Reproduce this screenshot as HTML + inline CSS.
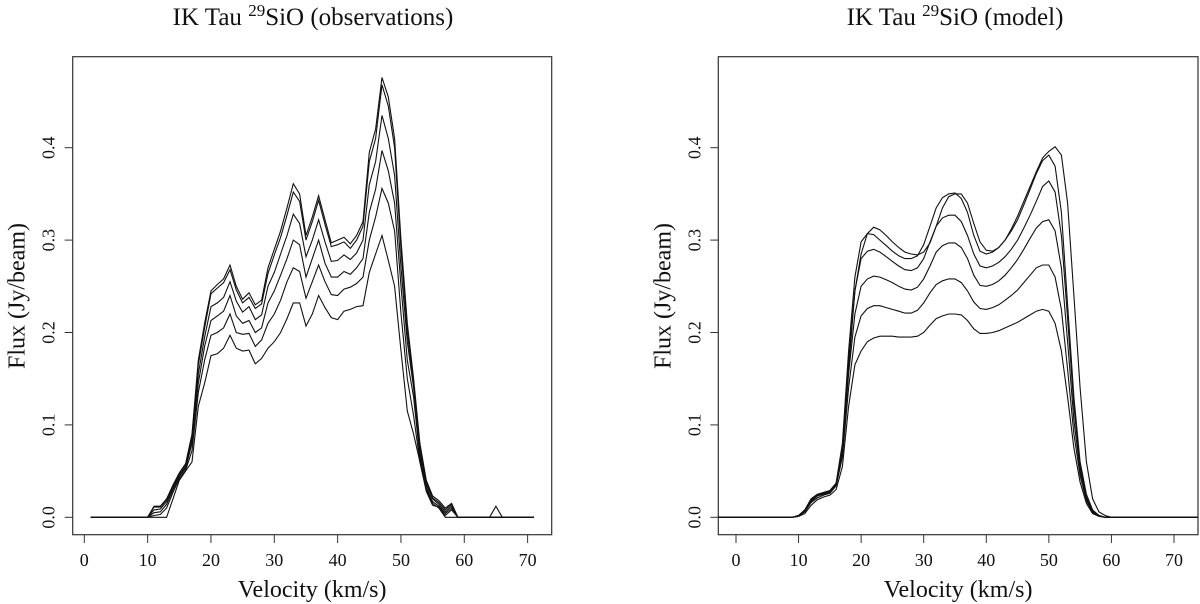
<!DOCTYPE html>
<html><head><meta charset="utf-8"><style>
html,body{margin:0;padding:0;background:#fff;width:1200px;height:604px;overflow:hidden}
svg{display:block;font-family:"Liberation Serif",serif}
</style></head><body>
<svg id="chart" width="1200" height="604" viewBox="0 0 1200 604"></svg>
<script>
// ---------- Observations data ----------
const obsVel=[1,10,11,12,13,14,15,16,17,18,19,20,21,22,23,24,25,26,27,28,29,30,31,32,33,34,35,36,37,38,39,40,41,42,43,44,45,46,47,48,49,50,51,52,53,54,55,56,57,58,59,60,64,65,66,71];
const obs1=[0,0,.012,.012,.02,.035,.048,.058,.09,.17,.21,.245,.252,.258,.273,.25,.236,.243,.23,.235,.27,.29,.31,.335,.361,.35,.305,.325,.348,.322,.297,.3,.303,.296,.305,.32,.395,.42,.476,.455,.41,.3,.21,.15,.08,.04,.023,.018,.01,.015,0,0,0,.012,0,0];
const obs2=[0,0,.011,.011,.019,.034,.047,.057,.088,.165,.205,.242,.248,.254,.268,.246,.232,.238,.226,.231,.264,.284,.303,.327,.352,.342,.3,.32,.343,.317,.293,.295,.298,.291,.3,.315,.385,.41,.468,.445,.4,.29,.2,.145,.075,.038,.021,.016,.008,.014,0,0,0,0,0,0];
const obs3=[0,0,.008,.009,.017,.032,.045,.055,.085,.155,.195,.228,.232,.238,.255,.234,.222,.228,.214,.219,.25,.265,.285,.305,.328,.318,.282,.3,.322,.298,.277,.278,.284,.279,.286,.3,.36,.385,.435,.41,.37,.27,.19,.14,.07,.035,.02,.014,.006,.012,0,0,0,0,0,0];
const obs4=[0,0,.005,.006,.014,.03,.044,.053,.08,.145,.185,.213,.218,.223,.24,.218,.21,.213,.2,.205,.232,.245,.262,.28,.3,.295,.26,.28,.3,.275,.26,.26,.266,.263,.27,.28,.33,.355,.397,.375,.34,.25,.17,.13,.065,.032,.017,.012,.004,.01,0,0,0,0,0,0];
const obs5=[0,0,.002,.003,.01,.027,.042,.051,.072,.135,.17,.197,.2,.205,.22,.2,.198,.199,.185,.192,.21,.22,.235,.255,.27,.266,.237,.255,.273,.255,.241,.24,.247,.249,.253,.26,.3,.325,.356,.34,.31,.22,.15,.11,.06,.028,.013,.011,.002,.008,0,0,0,0,0,0];
const obs6=[0,0,0,0,0,.02,.04,.05,.06,.12,.145,.175,.177,.183,.197,.183,.18,.181,.166,.172,.183,.19,.2,.215,.232,.232,.207,.22,.24,.227,.216,.214,.223,.225,.228,.229,.265,.285,.305,.278,.25,.18,.115,.09,.06,.03,.015,.01,0,0,0,0,0,0,0,0];
// ---------- Model data ----------
const modVel=[-5,8,9,10,11,12,13,14,15,16,17,18,19,20,21,22,23,24,25,26,27,28,29,30,31,32,33,34,35,36,37,38,39,40,41,42,43,44,45,46,47,48,49,50,51,52,53,54,55,56,57,58,59,60,61,62,80];
const modA=[0,0,0,.001,.006,.017,.023,.026,.028,.034,.07,.16,.245,.285,.307,.314,.311,.305,.298,.292,.287,.285,.284,.287,.297,.315,.335,.347,.35,.35,.34,.318,.298,.289,.288,.292,.3,.312,.326,.342,.358,.374,.389,.396,.401,.392,.34,.24,.14,.06,.02,.006,.002,0,0,0,0];
const modB=[0,0,0,.002,.008,.02,.025,.027,.029,.037,.08,.18,.26,.298,.307,.306,.3,.294,.288,.283,.28,.28,.283,.295,.315,.335,.346,.35,.351,.345,.33,.305,.288,.285,.287,.292,.3,.31,.322,.338,.355,.372,.386,.392,.38,.33,.23,.13,.06,.025,.008,.002,0,0,0,0,0];
const modC=[0,0,0,.002,.008,.019,.024,.026,.028,.036,.075,.17,.245,.28,.288,.29,.287,.282,.277,.272,.268,.267,.27,.28,.298,.315,.324,.327,.327,.32,.305,.285,.272,.27,.272,.276,.282,.29,.3,.313,.327,.342,.358,.364,.352,.305,.215,.12,.055,.022,.007,.002,0,0,0,0,0];
const modD=[0,0,0,.002,.007,.018,.023,.025,.027,.035,.07,.155,.22,.25,.258,.261,.26,.257,.254,.25,.247,.246,.249,.258,.272,.287,.294,.297,.297,.292,.28,.262,.251,.25,.252,.256,.262,.27,.279,.29,.302,.313,.32,.322,.31,.27,.19,.105,.05,.02,.006,.002,0,0,0,0,0];
const modE=[0,0,0,.002,.006,.016,.021,.024,.026,.034,.065,.14,.195,.218,.226,.229,.229,.227,.225,.223,.221,.221,.224,.232,.243,.252,.256,.258,.258,.254,.245,.233,.226,.225,.227,.23,.235,.24,.246,.254,.262,.27,.273,.273,.26,.225,.16,.09,.045,.018,.005,.001,0,0,0,0,0];
const modF=[0,0,0,.001,.004,.013,.019,.022,.024,.03,.055,.12,.165,.18,.19,.194,.196,.196,.196,.195,.195,.195,.196,.2,.208,.215,.218,.22,.22,.219,.213,.204,.199,.199,.2,.202,.205,.208,.211,.215,.219,.223,.225,.223,.21,.18,.13,.075,.038,.015,.004,.001,0,0,0,0,0];
// ---------- Ticks ----------
const xTicks=[0,10,20,30,40,50,60,70];
const yTicks=[0,0.1,0.2,0.3,0.4];
const yTickLabels=["0.0","0.1","0.2","0.3","0.4"];

const NS="http://www.w3.org/2000/svg";
const svg=document.getElementById('chart');
function mk(tag,attrs,parent){const e=document.createElementNS(NS,tag);for(const k in attrs)e.setAttribute(k,attrs[k]);(parent||svg).appendChild(e);return e;}

function panel(cfg){
  const g=mk('g',{});
  
  
  const x=v=>cfg.x0+(v)*cfg.kx;
  const y=v=>517.3-v*924;
  const box=mk('rect',{x:cfg.bx0,y:56.7,width:cfg.bx1-cfg.bx0,height:534.7-56.7,fill:'none',stroke:'#333','stroke-width':1.2},g);
  
  
  const clipId='clip-'+cfg.name;
  const cp=mk('clipPath',{id:clipId},g);
  mk('rect',{x:cfg.bx0,y:56.7,width:cfg.bx1-cfg.bx0,height:478},cp);
  const lines=mk('g',{'clip-path':'url(#'+clipId+')'},g);
  cfg.series.forEach((s,i)=>{
    const d=cfg.vel.map((v,j)=>(j?'L':'M')+x(v).toFixed(1)+','+y(s[j]).toFixed(1)).join(' ');
    const p=mk('path',{d:d,fill:'none',stroke:'#111','stroke-width':1.1,'stroke-linejoin':'miter'},lines);
    
    
  });
  xTicks.forEach(t=>{
    const tk=mk('line',{x1:x(t),x2:x(t),y1:534.7,y2:543,stroke:'#333','stroke-width':1},g);
    
    
    const tl=mk('text',{x:x(t),y:566,'text-anchor':'middle','font-size':18,fill:'#111'},g);
    tl.textContent=t;
    
    
  });
  yTicks.forEach((t,i)=>{
    const tk=mk('line',{x1:cfg.bx0-8,x2:cfg.bx0,y1:y(t),y2:y(t),stroke:'#333','stroke-width':1},g);
    
    
    const tx=cfg.bx0-18;
    const tl=mk('text',{x:tx,y:y(t),'text-anchor':'middle','font-size':18,fill:'#111',transform:'rotate(-90 '+tx+' '+y(t)+')'},g);
    tl.textContent=yTickLabels[i];
    
    
  });
  const cx=(cfg.bx0+cfg.bx1)/2;
  const xt=mk('text',{x:cx,y:597,'text-anchor':'middle','font-size':24,fill:'#111'},g);
  xt.textContent='Velocity (km/s)';
  
  
  const ax=cfg.bx0-48, ay=296;
  const yt=mk('text',{x:ax,y:ay,'text-anchor':'middle','font-size':24,fill:'#111',transform:'rotate(-90 '+ax+' '+ay+')'},g);
  yt.textContent='Flux (Jy/beam)';
  
  
  const tt=mk('text',{x:cfg.titleX,y:25,'text-anchor':'middle','font-size':25,fill:'#111'},g);
  tt.innerHTML='IK Tau <tspan font-size="17" dy="-9">29</tspan><tspan dy="9">SiO (</tspan>'+cfg.label+')';
  
  
}
panel({name:'observations-panel',x0:84.3,kx:6.333,bx0:72.7,bx1:551.7,vel:obsVel,series:[obs1,obs2,obs3,obs4,obs5,obs6],titleX:313,label:'observations'});
panel({name:'model-panel',x0:736,kx:6.257,bx0:718.3,bx1:1198,vel:modVel,series:[modA,modB,modC,modD,modE,modF],titleX:955,label:'model'});
</script>
</body></html>
